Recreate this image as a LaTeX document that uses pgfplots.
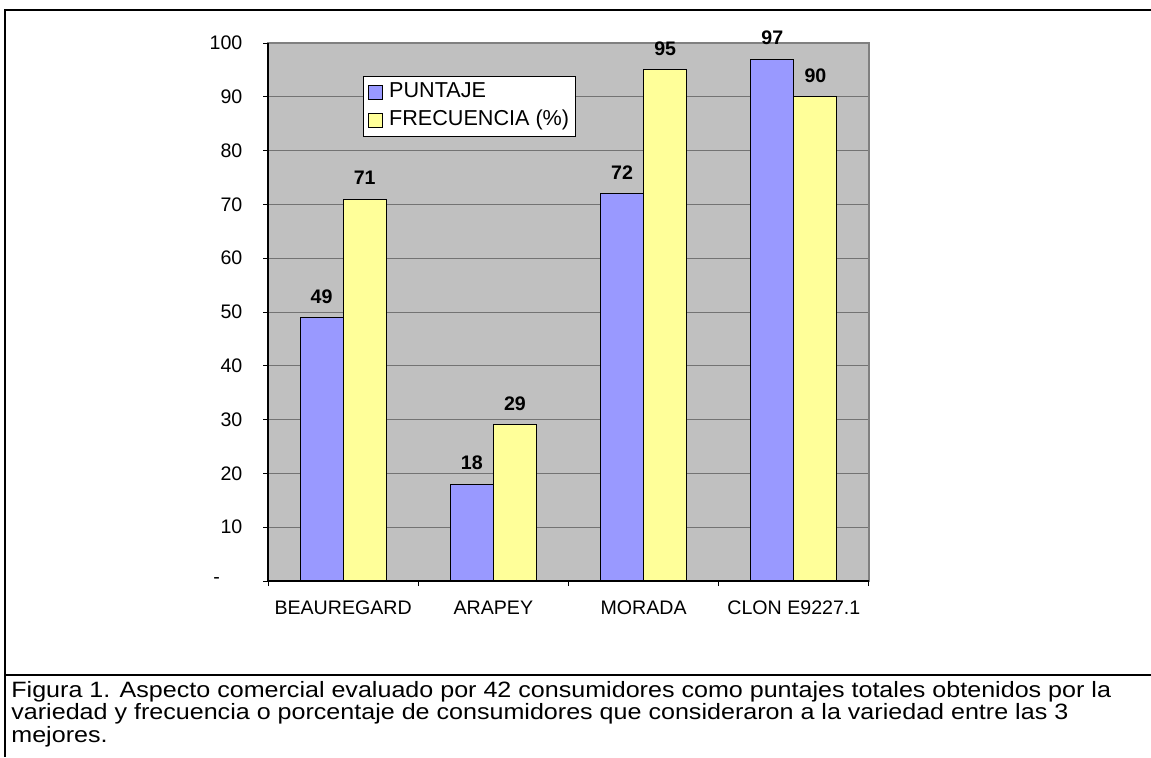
\documentclass[border=0pt]{standalone}
\usepackage{fontspec}
\setmainfont{Liberation Sans}
\newfontfamily\capfamily[FakeStretch=1.13]{Liberation Sans}
\usepackage{pgfplots}
\pgfplotsset{compat=1.18}
\definecolor{barblue}{HTML}{9999FF}
\definecolor{baryellow}{HTML}{FFFF99}
\definecolor{plotgray}{HTML}{C0C0C0}
\newcommand{\chartfont}{\fontsize{9.8}{11}\selectfont}
\newcommand{\legfont}{\fontsize{10.8}{12}\selectfont}
\newcommand{\capfont}{\capfamily\fontsize{11.1}{12}\selectfont}
\begin{document}
\begin{tikzpicture}
\useasboundingbox (0pt,0pt) rectangle (575.5pt,-378.5pt);
\draw[line width=1pt] (575.5pt,-5pt) -- (2.5pt,-5pt) -- (2.5pt,-378.5pt);
\draw[line width=1pt] (2.5pt,-337.5pt) -- (575.5pt,-337.5pt);
\begin{axis}[
  at={(134pt,-21.5pt)}, anchor=north west,
  scale only axis, width=300.5pt, height=269pt,
  ybar=0pt, bar width=0.287,
  xmin=-0.5, xmax=3.5, ymin=0, ymax=100,
  xtick={-0.5,0.5,1.5,2.5,3.5},
  xticklabels={BEAUREGARD,ARAPEY,MORADA,CLON E9227.1,},
  x tick label as interval,
  ytick={0,10,...,100},
  yticklabels={{\makebox[14.5pt][l]{-}},10,20,30,40,50,60,70,80,90,100},
  ymajorgrids,
  grid style={black!55, line width=0.5pt},
  axis background/.style={fill=plotgray},
  axis line style={draw=black!50, line width=0.6pt},
  xtick pos=bottom, ytick pos=left, tick align=outside,
  major tick length=2.5pt,
  tick style={black, line width=0.5pt},
  ticklabel style={font=\chartfont},
  yticklabel style={xshift=-6.8pt},
  xticklabel style={yshift=-4pt},
  nodes near coords={\bfseries\pgfmathprintnumber[assume math mode=true]{\pgfplotspointmeta}},
  every node near coord/.append style={font=\chartfont\bfseries, anchor=south, yshift=3.5pt, black},
  legend style={at={(0.158,0.939)}, anchor=north west, draw=black, fill=white,
    font=\legfont, inner xsep=2.5pt, inner ysep=2.5pt, row sep=3pt, column sep=2.5pt,
    nodes={inner xsep=0.5pt, inner ysep=0.5pt, text height=7.8pt, text depth=2.2pt}},
  legend cell align=left,
  after end axis/.code={\draw[black, line width=0.6pt] (rel axis cs:0,1) -- (rel axis cs:0,0) -- (rel axis cs:1,0);},
]
\addplot[fill=barblue, draw=black, line width=0.5pt,
  legend image code/.code={\draw[fill=barblue, draw=black, line width=0.4pt] (0pt,-3.5pt) rectangle (7pt,3.5pt);}]
  coordinates {(0,49) (1,18) (2,72) (3,97)};
\addplot[fill=baryellow, draw=black, line width=0.5pt,
  legend image code/.code={\draw[fill=baryellow, draw=black, line width=0.4pt] (0pt,-3.5pt) rectangle (7pt,3.5pt);}]
  coordinates {(0,71) (1,29) (2,95) (3,90)};
\legend{PUNTAJE, FRECUENCIA (\%)}
\end{axis}
\node[anchor=base west, inner sep=0pt, font=\capfont] at (5.5pt,-348.5pt) {Figura 1. Aspecto comercial evaluado por 42 consumidores como puntajes totales obtenidos por la};
\node[anchor=base west, inner sep=0pt, font=\capfont] at (5.5pt,-359.75pt) {variedad y frecuencia o porcentaje de consumidores que consideraron a la variedad entre las 3};
\node[anchor=base west, inner sep=0pt, font=\capfont] at (5.5pt,-371pt) {mejores.};
\end{tikzpicture}
\end{document}
